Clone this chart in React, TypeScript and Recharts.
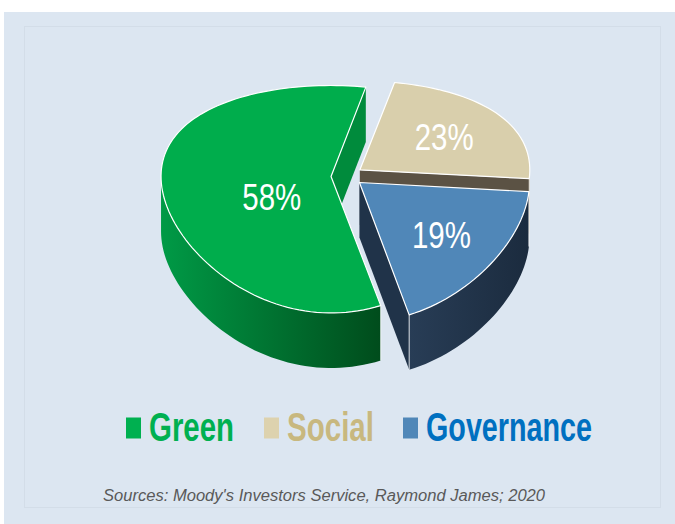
import { PieChart, Pie, Cell, Legend } from "recharts"

const categories = ["Green", "Social", "Governance"]
const shares = [58, 23, 19]
const sourceNote = "Sources: Moody's Investors Service, Raymond James; 2020"

const topColors = ["#00ad4c", "#d9cfac", "#5087b8"]
const endFaceColors = ["#008b3c", "#5b5244", "#203349"]
const wallColors = [
  ["#009a46", "#004c1c"],
  ["#b8ad88", "#8a8064"],
  ["#283d56", "#1b2b3e"],
]
const legendBoxColors = ["#00b050", "#ddd2ae", "#5087b8"]
const legendTextColors = ["#00b050", "#c8b87f", "#0070c0"]

const data = categories.map((name, i) => ({ name, value: shares[i] }))

// fake 3D: ellipse radii, a little perspective on y, wall depth, explode distance
const RX = 170
const RY = 109
const PERSP = 0.2
const DEPTH = 55
const EXPLODE = 0.094

type Pt = { x: number; y: number }

const rad = (d: number) => (d * Math.PI) / 180

function arcAngles(a: number, b: number) {
  const out: number[] = []
  const n = Math.max(2, Math.ceil((b - a) / 2))
  for (let i = 0; i <= n; i++) out.push(a + ((b - a) * i) / n)
  return out
}

const toPath = (pts: Pt[]) =>
  pts.map((p, i) => `${i ? "L" : "M"}${p.x.toFixed(2)},${p.y.toFixed(2)}`).join("") + "Z"

function centroid(pts: Pt[]): Pt {
  let a = 0
  let x = 0
  let y = 0
  for (let i = 0; i < pts.length; i++) {
    const p = pts[i]
    const q = pts[(i + 1) % pts.length]
    const c = p.x * q.y - q.x * p.y
    a += c
    x += (p.x + q.x) * c
    y += (p.y + q.y) * c
  }
  return { x: x / (3 * a), y: y / (3 * a) }
}

function Slice3D(props: any) {
  const { cx, cy, startAngle, endAngle, midAngle, index, percent } = props
  // recharts angles are ccw from 3 o'clock; switch to clockwise from 12
  const a0 = 90 - startAngle
  const a1 = 90 - endAngle
  const lo = Math.min(a0, a1)
  const hi = Math.max(a0, a1)
  const m = rad(90 - midAngle)
  const ox = EXPLODE * Math.sin(m)
  const oy = -EXPLODE * Math.cos(m)

  const proj = (X: number, Y: number): Pt => ({
    x: cx + RX * X,
    y: cy + (RY * Y) / (1 - PERSP * Y),
  })
  const rim = (deg: number) => proj(ox + Math.sin(rad(deg)), oy - Math.cos(rad(deg)))
  const apex = proj(ox, oy)
  const down = (p: Pt): Pt => ({ x: p.x, y: p.y + DEPTH })

  const top = [apex, ...arcAngles(lo, hi).map(rim)]

  const walls: Pt[][] = []
  for (const k of [0, 360]) {
    const from = Math.max(lo, 90 + k)
    const to = Math.min(hi, 270 + k)
    if (to > from) {
      const upper = arcAngles(from, to).map(rim)
      walls.push([...upper, ...upper.slice().reverse().map(down)])
    }
  }

  const faces: Pt[][] = []
  if (Math.sin(rad(hi)) > 0) {
    const r = rim(hi)
    faces.push([apex, r, down(r), down(apex)])
  }
  if (Math.sin(rad(lo)) < 0) {
    const r = rim(lo)
    faces.push([apex, r, down(r), down(apex)])
  }

  const edges = [lo, hi]
    .filter((d) => {
      const s = ((d % 360) + 360) % 360
      return s >= 90 && s <= 270
    })
    .map(rim)

  const c = centroid(top)
  const gid = `wall-grad-${index}`

  return (
    <g>
      <defs>
        <linearGradient id={gid} x1="0" y1="0" x2="1" y2="0">
          <stop offset="0%" stopColor={wallColors[index][0]} />
          <stop offset="100%" stopColor={wallColors[index][1]} />
        </linearGradient>
      </defs>
      {faces.map((f, i) => (
        <path key={`f${i}`} d={toPath(f)} fill={endFaceColors[index]} />
      ))}
      {walls.map((w, i) => (
        <path key={`w${i}`} d={toPath(w)} fill={`url(#${gid})`} />
      ))}
      {edges.map((p, i) => (
        <line
          key={`e${i}`}
          x1={p.x}
          y1={p.y}
          x2={p.x}
          y2={p.y + DEPTH}
          stroke="#ffffff"
          strokeOpacity={0.8}
          strokeWidth={1}
        />
      ))}
      <path
        d={toPath(top)}
        fill={topColors[index]}
        stroke="#ffffff"
        strokeWidth={1.2}
        strokeLinejoin="round"
      />
      <text
        x={c.x}
        y={c.y}
        fill="#ffffff"
        fontSize={37}
        fontFamily="'Liberation Sans Narrow', 'Arial Narrow', 'Liberation Sans', Arial, sans-serif"
        textAnchor="middle"
        dominantBaseline="central"
        textLength={59}
        lengthAdjust="spacingAndGlyphs"
      >
        {`${Math.round(percent * 100)}%`}
      </text>
    </g>
  )
}

const legendBoxX = [126, 264, 403]
const legendTextX = [149, 287, 426]
const legendTextW = [85, 87, 166]

function LegendBlock() {
  return (
    <svg width={675} height={110} style={{ display: "block" }}>
      {categories.map((name, i) => (
        <g key={name}>
          <rect x={legendBoxX[i]} y={17.5} width={15} height={21} fill={legendBoxColors[i]} />
          <text
            x={legendTextX[i]}
            y={41}
            fill={legendTextColors[i]}
            fontSize={40}
            fontWeight="bold"
            fontFamily="'Liberation Sans Narrow', 'Arial Narrow', 'Liberation Sans', Arial, sans-serif"
            textLength={legendTextW[i]}
            lengthAdjust="spacingAndGlyphs"
          >
            {name}
          </text>
        </g>
      ))}
      <text
        x={103}
        y={101}
        fill="#595959"
        fontSize={16}
        fontStyle="italic"
        fontFamily="'Liberation Sans', Arial, sans-serif"
        textLength={442}
        lengthAdjust="spacingAndGlyphs"
      >
        {sourceNote}
      </text>
    </svg>
  )
}

export default function App() {
  return (
    <div
      style={{
        position: "absolute",
        left: 0,
        top: 0,
        width: 675,
        height: 524,
        background: "#ffffff",
        overflow: "hidden",
      }}
    >
      <div
        style={{
          position: "absolute",
          left: 4,
          top: 12,
          width: 671,
          height: 512,
          background: "#dce6f1",
        }}
      />
      <div
        style={{
          position: "absolute",
          left: 24,
          top: 26,
          width: 635,
          height: 480,
          border: "1px solid #d3dde8",
        }}
      />
      <div style={{ position: "absolute", left: 0, top: 0 }}>
        <PieChart width={675} height={524} margin={{ top: 0, right: 0, bottom: 0, left: 0 }}>
          <Pie
            data={data}
            dataKey="value"
            nameKey="name"
            cx={347}
            cy={176}
            outerRadius={100}
            startAngle={-73}
            endAngle={-433}
            stroke="none"
            isAnimationActive={false}
            label={Slice3D}
            labelLine={false}
          >
            {data.map((d) => (
              <Cell key={d.name} fill="transparent" />
            ))}
          </Pie>
          <Legend
            content={() => <LegendBlock />}
            wrapperStyle={{ top: 400, left: 0, bottom: "auto", width: 675 }}
          />
        </PieChart>
      </div>
    </div>
  )
}
